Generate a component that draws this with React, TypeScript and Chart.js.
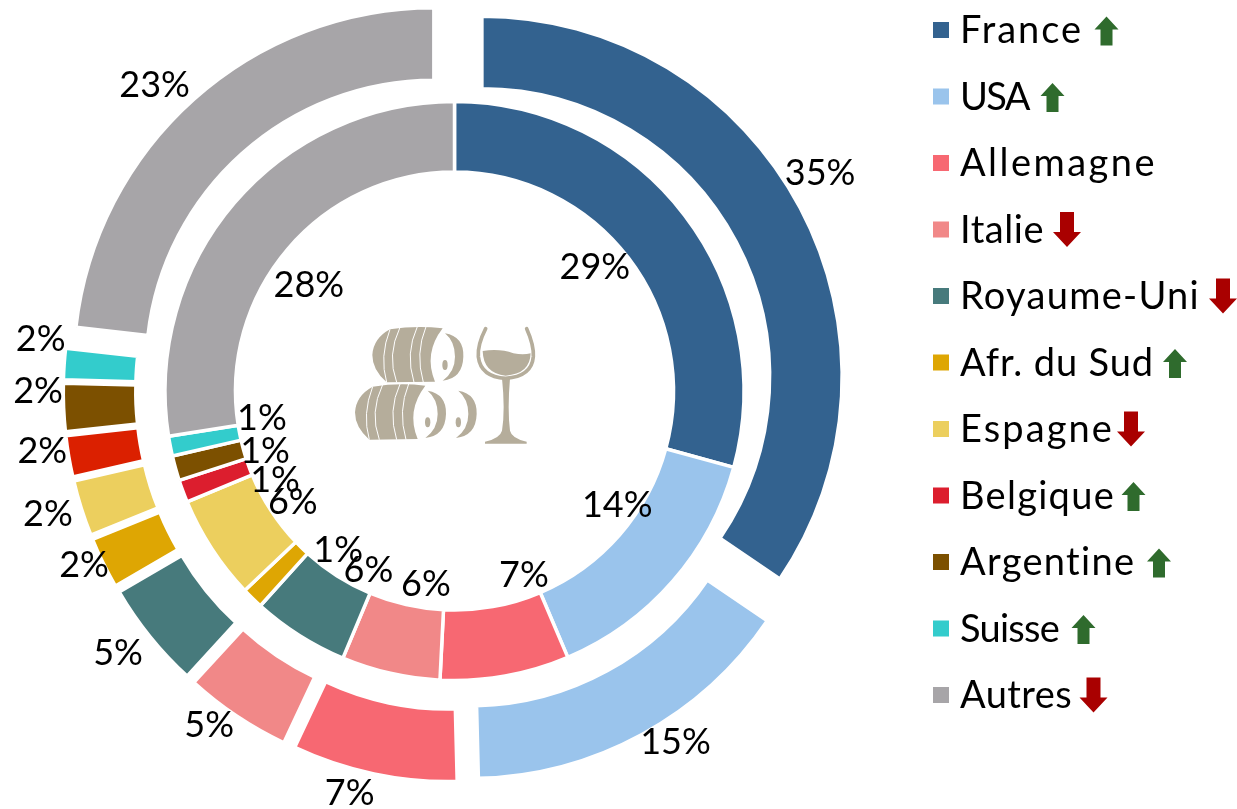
import React, { useEffect, useRef } from "react";
import { Chart, registerables } from "chart.js";

Chart.register(...registerables);

const categories = ["France", "USA", "Allemagne", "Italie", "Royaume-Uni", "Afr. du Sud", "Espagne", "Belgique", "Argentine", "Suisse", "Autres"];
const outerValues = [34.5, 15.1, 7.4, 4.8, 4.8, 2.3, 2.5, 1.85, 2.15, 1.4, 23.2];
const innerValues = [29.25, 14.35, 7.2, 5.5, 5.4, 1.2, 5.85, 1.25, 1.4, 1.1, 27.5];
const outerLabels = ["35%", "15%", "7%", "5%", "5%", "2%", "2%", "2%", "2%", "2%", "23%"];
const innerLabels = ["29%", "14%", "7%", "6%", "6%", "1%", "6%", "1%", "1%", "1%", "28%"];
const trends = ["up", "up", "", "down", "down", "up", "down", "up", "up", "up", "down"];

const colors = ["#33628F", "#9AC4EC", "#F76872", "#F18888", "#477A7C", "#DEA603", "#ECCF5E", "#DC1E2E", "#7C5000", "#33CCCC", "#A7A5A8"];
const outerColors = ["#33628F", "#9AC4EC", "#F76872", "#F18888", "#477A7C", "#DEA603", "#ECCF5E", "#DB2000", "#7C5000", "#33CCCC", "#A7A5A8"];
const arrowCenters = [1106.5, 1052.5, 0, 1067, 1223, 1175, 1131, 1133.5, 1159, 1083.5, 1093.5];
const legendWidths = [123, 69, 197, 84, 240, 194, 154, 155, 176, 99, 112];
const outerLabelRadius = [394.6, 384, 384.4, 384, 396, 378.4, 394, 385.7, 385.5, 386, 397];
const outerLabelTurn = [-3.1, -3.85, 2.95, 2.6, 0.95, 1, 0.6, 1.35, 2.5, 3.35, -2.95];
const innerLabelRadius = [187.3, 198.8, 196.7, 195.8, 199.3, 197.1, 196.5, 200.4, 199, 194.4, 180];
const innerLabelTurn = [-4.1, -6.1, -10.6, -4.4, -6.8, -8.1, -1.6, -6.15, -2.3, 3, -4.5];

const FONT = "Lato, sans-serif";
const GREEN = "#2F6B2D";
const RED = "#A90000";
const TAN = "#B5AD9B";
const EXPLODE = 31;
const OUTER_EDGE = 360.25;
const OUTER_INNER_EDGE = 287.75;

const ringPlugin = {
  id: "ringPlugin",
  afterDatasetsUpdate(chart: any) {
    chart.getDatasetMeta(0).data.forEach((arc: any) => {
      // An offset arc is widened by offset * (1 - sin(circumference)) and its sweep is
      // cut by that amount / (PI * radius); undo both so angles and radii stay true.
      const grow = EXPLODE * (1 - Math.sin(Math.min(Math.PI, arc.circumference)));
      const pad = grow / Math.PI / OUTER_EDGE / 2;
      arc.outerRadius = OUTER_EDGE - grow;
      arc.innerRadius = OUTER_INNER_EDGE - grow;
      arc.startAngle -= pad;
      arc.endAngle += pad;
    });
    chart.getDatasetMeta(1).data.forEach((arc: any) => {
      arc.outerRadius = 289.5;
      arc.innerRadius = 219;
    });
  },
};

const labelsPlugin = {
  id: "labelsPlugin",
  afterDatasetsDraw(chart: any) {
    const ctx = chart.ctx;
    ctx.save();
    ctx.font = `36px ${FONT}`;
    ctx.fillStyle = "#000";
    ctx.textAlign = "center";
    ctx.textBaseline = "middle";
    const rings: [number, string[], number[], number[], number][] = [
      [1, innerLabels, innerLabelRadius, innerLabelTurn, 0],
      [0, outerLabels, outerLabelRadius, outerLabelTurn, EXPLODE],
    ];
    rings.forEach(([index, labels, radii, turns, shift]) => {
      chart.getDatasetMeta(index).data.forEach((arc: any, i: number) => {
        const mid = (arc.startAngle + arc.endAngle) / 2;
        const ang = mid + (turns[i] * Math.PI) / 180;
        const x = arc.x + Math.cos(mid) * shift + Math.cos(ang) * radii[i];
        const y = arc.y + Math.sin(mid) * shift + Math.sin(ang) * radii[i];
        ctx.fillText(labels[i], x, y);
      });
    });
    ctx.restore();
  },
};

function drawArrow(ctx: any, cx: number, cy: number, up: boolean) {
  const w = up ? 12 : 14;
  const h = up ? 14.5 : 17.5;
  const s = up ? 6 : 7;
  const head = up ? 13 : 15;
  const d = up ? 1 : -1;
  ctx.beginPath();
  ctx.moveTo(cx, cy - d * h);
  ctx.lineTo(cx + w, cy - d * (h - head));
  ctx.lineTo(cx + s, cy - d * (h - head));
  ctx.lineTo(cx + s, cy + d * h);
  ctx.lineTo(cx - s, cy + d * h);
  ctx.lineTo(cx - s, cy - d * (h - head));
  ctx.lineTo(cx - w, cy - d * (h - head));
  ctx.closePath();
  ctx.fillStyle = up ? GREEN : RED;
  ctx.fill();
}

const legendPlugin = {
  id: "legendPlugin",
  afterDraw(chart: any) {
    const ctx = chart.ctx;
    ctx.save();
    ctx.textBaseline = "alphabetic";
    ctx.textAlign = "left";
    ctx.font = `38px ${FONT}`;
    categories.forEach((name, i) => {
      const cy = 30 + i * 66.5;
      ctx.fillStyle = colors[i];
      ctx.fillRect(933, cy - 8, 16, 16);
      ctx.fillStyle = "#000";
      (ctx as any).letterSpacing = "0px";
      const natural = ctx.measureText(name).width;
      (ctx as any).letterSpacing = `${(legendWidths[i] - natural) / name.length}px`;
      ctx.fillText(name, 960, cy + 13);
      if (trends[i]) drawArrow(ctx, arrowCenters[i], cy + (trends[i] === "up" ? 1 : 0), trends[i] === "up");
    });
    ctx.restore();
  },
};

function barrel(ctx: any, dx: number, dy: number) {
  ctx.save();
  ctx.translate(dx, dy);
  ctx.fillStyle = TAN;
  ctx.beginPath();
  ctx.moveTo(150, 58);
  ctx.quadraticCurveTo(230, 45, 308, 55);
  ctx.quadraticCurveTo(250, 130, 285, 215);
  ctx.lineTo(140, 217);
  ctx.quadraticCurveTo(97, 180, 97, 135);
  ctx.quadraticCurveTo(100, 85, 150, 58);
  ctx.fill();
  ctx.strokeStyle = "#fff";
  ctx.lineWidth = 3;
  [[150, 58, 118, 140, 140, 217], [180, 52, 140, 135, 170, 217], [232, 50, 195, 130, 222, 217], [258, 50, 225, 130, 250, 217]].forEach((c) => {
    ctx.beginPath();
    ctx.moveTo(c[0], c[1]);
    ctx.quadraticCurveTo(c[2], c[3], c[4], c[5]);
    ctx.stroke();
  });
  ctx.restore();
}

function crescent(ctx: any, dx: number, dy: number) {
  ctx.save();
  ctx.translate(dx, dy);
  ctx.fillStyle = TAN;
  ctx.beginPath();
  ctx.moveTo(315, 70);
  ctx.quadraticCurveTo(372, 80, 370, 140);
  ctx.quadraticCurveTo(368, 205, 308, 212);
  ctx.quadraticCurveTo(345, 185, 345, 140);
  ctx.quadraticCurveTo(345, 95, 315, 70);
  ctx.fill();
  ctx.beginPath();
  ctx.ellipse(315, 165, 8, 15, 0, 0, Math.PI * 2);
  ctx.fill();
  ctx.restore();
}

const iconPlugin = {
  id: "iconPlugin",
  afterDraw(chart: any) {
    const ctx = chart.ctx;
    ctx.save();
    ctx.translate(340, 310);
    ctx.scale(1 / 3, 1 / 3);
    barrel(ctx, 0, 0);
    crescent(ctx, 0, 0);
    barrel(ctx, -52, 172);
    crescent(ctx, -52, 172);
    crescent(ctx, 40, 172);
    ctx.fillStyle = TAN;
    ctx.strokeStyle = TAN;
    ctx.lineWidth = 11;
    ctx.lineCap = "round";
    ctx.beginPath();
    ctx.moveTo(437, 56);
    ctx.quadraticCurveTo(412, 105, 415, 140);
    ctx.quadraticCurveTo(422, 200, 497, 205);
    ctx.quadraticCurveTo(575, 200, 580, 140);
    ctx.quadraticCurveTo(582, 105, 560, 56);
    ctx.stroke();
    ctx.beginPath();
    ctx.moveTo(428, 123);
    ctx.quadraticCurveTo(480, 115, 520, 130);
    ctx.quadraticCurveTo(550, 136, 572, 130);
    ctx.quadraticCurveTo(570, 192, 497, 197);
    ctx.quadraticCurveTo(430, 190, 428, 123);
    ctx.fill();
    ctx.beginPath();
    ctx.moveTo(486, 205);
    ctx.lineTo(510, 205);
    ctx.quadraticCurveTo(502, 300, 510, 362);
    ctx.quadraticCurveTo(515, 385, 560, 395);
    ctx.lineTo(560, 401);
    ctx.lineTo(435, 401);
    ctx.lineTo(435, 395);
    ctx.quadraticCurveTo(480, 385, 486, 362);
    ctx.quadraticCurveTo(496, 300, 486, 205);
    ctx.fill();
    ctx.restore();
  },
};

export default function App() {
  const ref = useRef<HTMLCanvasElement>(null);
  useEffect(() => {
    document.body.style.margin = "0";
    const chart = new Chart(ref.current as HTMLCanvasElement, {
      type: "doughnut",
      data: {
        labels: categories,
        datasets: [
          { label: "Outer", data: outerValues, backgroundColor: outerColors, borderColor: "#fff", borderWidth: 3.5, offset: EXPLODE * 4, weight: 70 },
          { label: "Inner", data: innerValues, backgroundColor: colors, borderColor: "#fff", borderWidth: 3.5, offset: 0, weight: 38 },
        ],
      },
      options: {
        responsive: false,
        animation: false,
        radius: 328,
        cutout: 220,
        layout: { padding: { left: 0, top: 0, right: 328, bottom: 27 } },
        plugins: { legend: { display: false }, tooltip: { enabled: false } },
      } as any,
      plugins: [ringPlugin, labelsPlugin, legendPlugin, iconPlugin],
    });
    return () => chart.destroy();
  }, []);
  return (
    <div style={{ width: 1237, height: 809, background: "#fff", overflow: "hidden" }}>
      <canvas ref={ref} width={1237} height={809} style={{ display: "block" }} />
    </div>
  );
}
